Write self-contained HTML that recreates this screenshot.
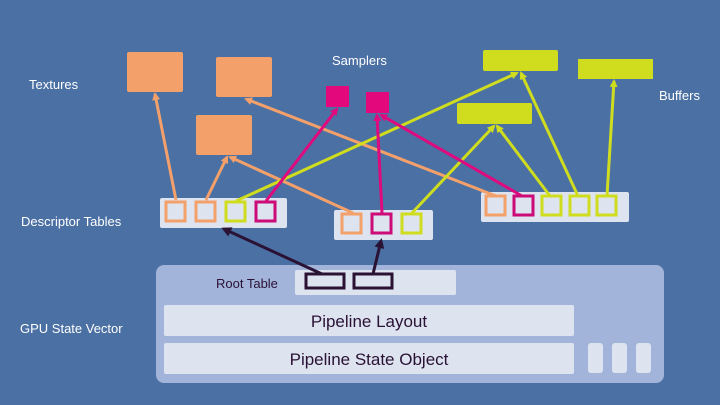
<html><body style="margin:0;background:#4b70a3">
<svg width="720" height="405" xmlns="http://www.w3.org/2000/svg" style="display:block;font-family:'Liberation Sans',sans-serif">
<defs>
<marker id="o" markerWidth="8" markerHeight="8" refX="6" refY="4" orient="auto" markerUnits="userSpaceOnUse"><path d="M0,0 L8,4 L0,8 z" fill="#f4a06a"/></marker>
<marker id="m" markerWidth="8" markerHeight="8" refX="6" refY="4" orient="auto" markerUnits="userSpaceOnUse"><path d="M0,0 L8,4 L0,8 z" fill="#de0a7e"/></marker>
<marker id="l" markerWidth="8" markerHeight="8" refX="6" refY="4" orient="auto" markerUnits="userSpaceOnUse"><path d="M0,0 L8,4 L0,8 z" fill="#cfdd1e"/></marker>
<marker id="d" markerWidth="10" markerHeight="10" refX="7" refY="5" orient="auto" markerUnits="userSpaceOnUse"><path d="M0,0 L10,5 L0,10 z" fill="#2a1235"/></marker>
</defs>
<rect width="720" height="405" fill="#4b70a3"/>
<g fill="#f4a06a"><rect x="127" y="52" width="56" height="40" rx="2"/><rect x="216" y="57" width="56" height="40" rx="2"/><rect x="196" y="115" width="56" height="40" rx="2"/></g>
<g fill="#e3097c"><rect x="326" y="86" width="23" height="21"/><rect x="366" y="92" width="23" height="21"/></g>
<g fill="#cfdd1e"><rect x="483" y="50" width="75" height="21" rx="2"/><rect x="578" y="59" width="75" height="20"/><rect x="457" y="103" width="75" height="21" rx="2"/></g>
<g fill="#dde3ef"><rect x="160" y="198" width="127" height="30" rx="2"/><rect x="334" y="210" width="99" height="30" rx="2"/><rect x="481" y="192" width="148" height="30" rx="2"/></g>
<rect x="156" y="265" width="508" height="118" rx="8" fill="#a2b4da"/>
<rect x="295" y="270" width="161" height="25" rx="2" fill="#dde3ef"/>
<rect x="164" y="305" width="410" height="31" rx="2" fill="#dde3ef"/>
<rect x="164" y="343" width="410" height="31" rx="2" fill="#dde3ef"/>
<g fill="#dde3ef"><rect x="588" y="343" width="15" height="30" rx="3"/><rect x="612" y="343" width="15" height="30" rx="3"/><rect x="636" y="343" width="15" height="30" rx="3"/></g>
<g fill="none" stroke="#2a1235" stroke-width="3"><rect x="306" y="274" width="38" height="14"/><rect x="354" y="274" width="38" height="14"/></g>
<g stroke-width="3" fill="none">
<line x1="176" y1="200" x2="155" y2="94" stroke="#f4a06a" marker-end="url(#o)"/>
<line x1="206" y1="200" x2="227" y2="157" stroke="#f4a06a" marker-end="url(#o)"/>
<line x1="353" y1="213" x2="230" y2="157" stroke="#f4a06a" marker-end="url(#o)"/>
<line x1="496" y1="196" x2="246" y2="99" stroke="#f4a06a" marker-end="url(#o)"/>
<line x1="236" y1="201" x2="517" y2="73" stroke="#cfdd1e" marker-end="url(#l)"/>
<line x1="412" y1="213" x2="494" y2="126" stroke="#cfdd1e" marker-end="url(#l)"/>
<line x1="550" y1="196" x2="497" y2="126" stroke="#cfdd1e" marker-end="url(#l)"/>
<line x1="578" y1="196" x2="521" y2="73" stroke="#cfdd1e" marker-end="url(#l)"/>
<line x1="607" y1="196" x2="614" y2="81" stroke="#cfdd1e" marker-end="url(#l)"/>
<line x1="266" y1="201" x2="337" y2="109" stroke="#de0a7e" marker-end="url(#m)"/>
<line x1="382" y1="213" x2="377" y2="115" stroke="#de0a7e" marker-end="url(#m)"/>
<line x1="522" y1="196" x2="381" y2="115" stroke="#de0a7e" marker-end="url(#m)"/>
<line x1="322" y1="274" x2="224" y2="229" stroke="#2a1235" marker-end="url(#d)"/>
<line x1="373" y1="274" x2="381" y2="241" stroke="#2a1235" marker-end="url(#d)"/>
</g>
<g fill="#dde3ef" stroke-width="3">
<rect x="166" y="202" width="19" height="19" stroke="#f4a06a"/><rect x="196" y="202" width="19" height="19" stroke="#f4a06a"/>
<rect x="226" y="202" width="19" height="19" stroke="#cfdd1e"/><rect x="256" y="202" width="19" height="19" stroke="#cc0a78"/>
<rect x="342" y="214" width="19" height="19" stroke="#f4a06a"/><rect x="372" y="214" width="19" height="19" stroke="#cc0a78"/><rect x="402" y="214" width="19" height="19" stroke="#cfdd1e"/>
<rect x="486" y="196" width="19" height="19" stroke="#f4a06a"/><rect x="514" y="196" width="19" height="19" stroke="#cc0a78"/>
<rect x="542" y="196" width="19" height="19" stroke="#cfdd1e"/><rect x="570" y="196" width="19" height="19" stroke="#cfdd1e"/><rect x="597" y="196" width="19" height="19" stroke="#cfdd1e"/>
</g>
<g fill="#fff" font-size="13">
<text x="332" y="65">Samplers</text><text x="29" y="89">Textures</text><text x="659" y="100">Buffers</text>
<text x="21" y="226">Descriptor Tables</text><text x="20" y="333">GPU State Vector</text>
</g>
<text x="216" y="288" font-size="13" fill="#2a1235">Root Table</text>
<text x="369" y="327" font-size="17" fill="#2a1235" text-anchor="middle">Pipeline Layout</text>
<text x="369" y="365" font-size="17" fill="#2a1235" text-anchor="middle">Pipeline State Object</text>
</svg>
</body></html>
